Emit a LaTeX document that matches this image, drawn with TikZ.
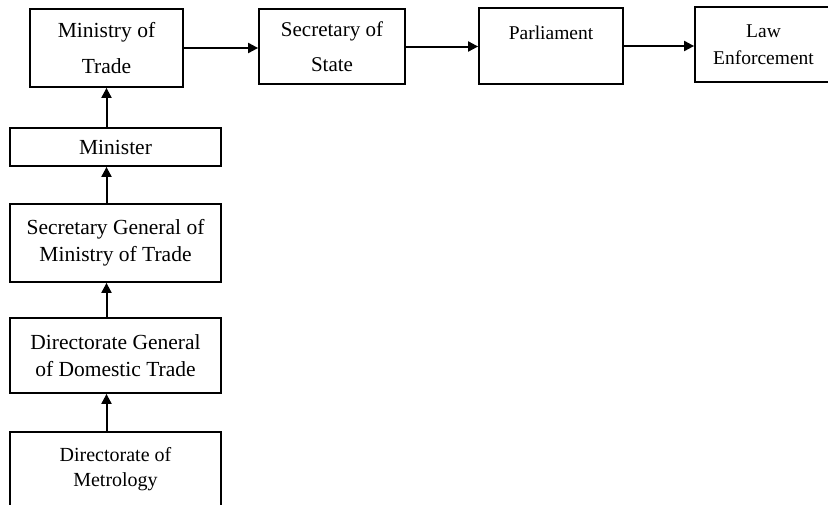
\documentclass[tikz,border=0pt]{standalone}
\usepackage{fontspec}
\setmainfont{Liberation Serif}
\usetikzlibrary{arrows.meta}
\begin{document}
\begin{tikzpicture}[x=1pt,y=-1pt,
  box/.style={draw,line width=1.8pt,rectangle,inner sep=0pt,align=center,font=\fontsize{21.5}{27}\selectfont},
  arr/.style={line width=2pt,-{Triangle[length=10pt,width=10pt]}}]
\useasboundingbox (0,0) rectangle (828,504);
\clip (0,0) rectangle (828,504);
\node[box,minimum width=153,minimum height=78,font=\fontsize{21.5}{36}\selectfont] (mot) at (106.5,48) {Ministry of\\Trade};
\node[box,minimum width=146,minimum height=75,font=\fontsize{21}{35}\selectfont] (sos) at (332,46.5) {Secretary of\\State};
\node[box,minimum width=144,minimum height=76,font=\fontsize{19.5}{27}\selectfont] (parl) at (551,46) {Parliament\\\mbox{}};
\node[box,minimum width=137,minimum height=75,font=\fontsize{19.5}{27}\selectfont] (law) at (763.5,44.5) {Law\\Enforcement};
\node[box,minimum width=211,minimum height=38] (min) at (115.5,147) {Minister};
\node[box,minimum width=211,minimum height=78] (sg) at (115.5,243) {Secretary General of\\Ministry of Trade};
\node[box,minimum width=211,minimum height=75] (dg) at (115.5,355.5) {Directorate General\\of Domestic Trade};
\node[box,minimum width=211,minimum height=74,font=\fontsize{20}{25}\selectfont] (met) at (115.5,469) {Directorate of\\Metrology};
\draw[arr] (mot.east) -- (mot.east -| sos.west);
\draw[arr] (sos.east) -- (sos.east -| parl.west);
\draw[arr] (parl.east) -- (parl.east -| law.west);
\draw[arr] (min.north -| mot.south) -- (mot.south);
\draw[arr] (sg.north -| mot.south) -- (min.south -| mot.south);
\draw[arr] (dg.north -| mot.south) -- (sg.south -| mot.south);
\draw[arr] (met.north -| mot.south) -- (dg.south -| mot.south);
\end{tikzpicture}
\end{document}
